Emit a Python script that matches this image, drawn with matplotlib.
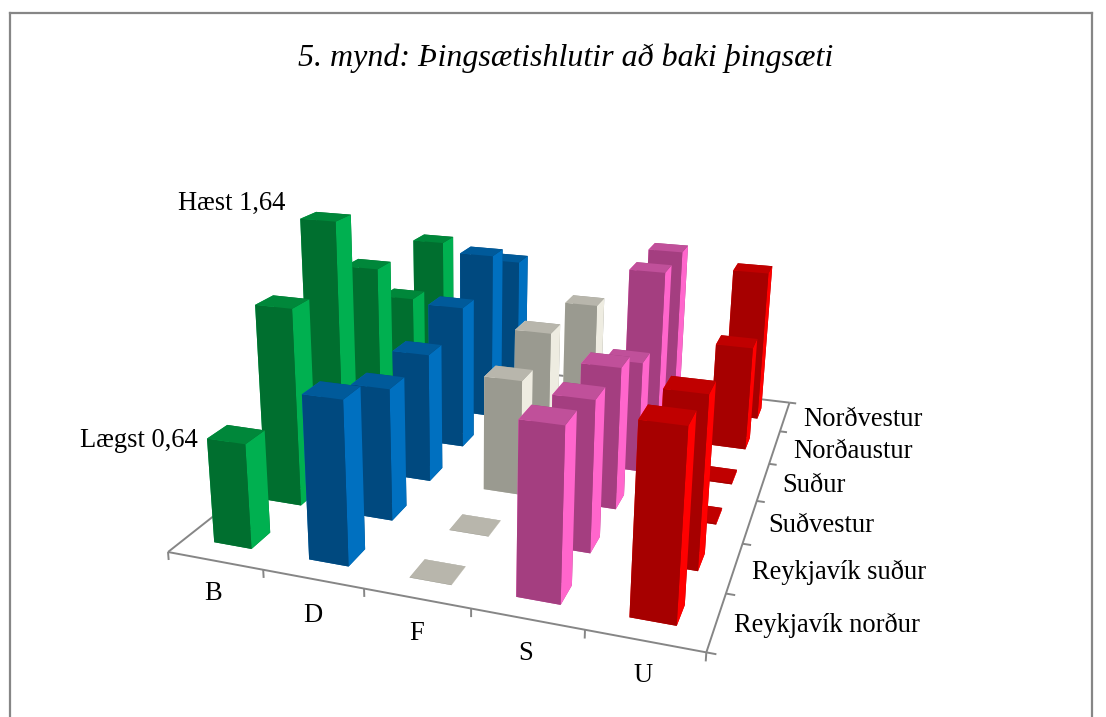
import matplotlib
matplotlib.use("Agg")
import matplotlib.pyplot as plt
from matplotlib.lines import Line2D

parties = ["B", "D", "F", "S", "U"]
regions = ["Reykjavík norður", "Reykjavík suður", "Suðvestur", "Suður", "Norðaustur", "Norðvestur"]
values_B = [0.64, 1.25, 1.64, 1.19, 0.82, 1.10]
values_D = [0.98, 0.83, 0.845, 0.98, 1.19, 1.00]
values_F = [0.00, 0.00, 0.75, 0.87, 0.00, 0.725]
values_S = [1.00, 0.92, 0.906, 0.74, 1.18, 1.18]
values_U = [1.08, 1.03, 0.01, 0.01, 0.72, 1.08]
all_values = [values_B, values_D, values_F, values_S, values_U]

colors = [
    ("#006F2F", "#00B050", "#00873A"),
    ("#00497F", "#0070C0", "#005A9A"),
    ("#9A9A90", "#EEECE1", "#B8B6AC"),
    ("#A43E80", "#FF66CC", "#C0509A"),
    ("#A60000", "#FF0000", "#C00000"),
]
SERIF = "Liberation Serif"
W, H = 1106, 717
fig = plt.figure(figsize=(W / 100, H / 100), dpi=100)
s = 1000
ax = fig.add_axes([-44.5 / W, -135.5 / H, s / W, s / H], projection="3d", computed_zorder=False)
ax.set_proj_type("persp", focal_length=1241 * 0.185 / s)
ax.view_init(elev=17.8, azim=-70)
ax.set_xlim(-0.538, 4.462)
ax.set_ylim(-0.197, 5.803)
ax.set_zlim(0, 1.76)
ax.set_box_aspect((0.885, 1.0607, 0.5144), zoom=0.7735)
ax.set_axis_off()
ax.patch.set_alpha(0)

axc = "#868686"
def seg(xs, ys, zs):
    ax.plot(xs, ys, zs, color=axc, lw=1.4, zorder=1, solid_capstyle="butt")
seg([0, 5], [0, 0], [0, 0])
seg([5, 5], [0, 6], [0, 0])
seg([0, 0], [0, 6], [0, 0])
seg([0, 5], [6, 6], [0, 0])
for i in range(len(parties) + 1):
    seg([i, i], [0, 0], [0, -0.05])
for j in range(len(regions) + 1):
    seg([5, 5.08], [j, j], [0, 0])

bw, bd = 0.40, 0.36
for c, vals in enumerate(all_values):
    front, side, top = colors[c]
    for r, v in enumerate(vals):
        h = max(v, 0.002)
        x0 = c + 0.5 - bw / 2
        y0 = r + 0.5 - bd / 2
        # faces: -Z, +Z, -Y, +Y, -X, +X
        fc = [top, top, front, front, side, side]
        ax.bar3d([x0], [y0], [0], bw, bd, h, color=fc, shade=False,
                 zorder=10 + c * 10 + (5 - r), edgecolor="none", linewidth=0)

def px(x, y):
    return x / W, 1 - y / H

fig.text(*px(566, 58), "5. mynd: Þingsætishlutir að baki þingsæti", family=SERIF,
         style="italic", fontsize=23, ha="center", va="center")
party_pos = [(213, 594), (313, 615), (417, 634), (526, 653), (643, 676)]
for name, p in zip(parties, party_pos):
    fig.text(*px(*p), name, family=SERIF, fontsize=19.1, ha="center", va="center")
region_pos = [(734, 625), (752, 572), (768, 526), (782, 486), (793, 451), (803, 420)]
for name, p in zip(regions, region_pos):
    fig.text(*px(*p), name, family=SERIF, fontsize=19.1, ha="left", va="center")
fig.text(*px(178, 203), "Hæst 1,64", family=SERIF, fontsize=19.1, ha="left", va="center")
fig.text(*px(80, 440), "Lægst 0,64", family=SERIF, fontsize=19.1, ha="left", va="center")

for (a, b) in [((10, 717), (10, 13)), ((10, 13), (1092, 13)), ((1092, 13), (1092, 717))]:
    fig.add_artist(Line2D([a[0] / W, b[0] / W], [1 - a[1] / H, 1 - b[1] / H], color=axc, lw=1.6))

fig.savefig("out.png", dpi=100)
